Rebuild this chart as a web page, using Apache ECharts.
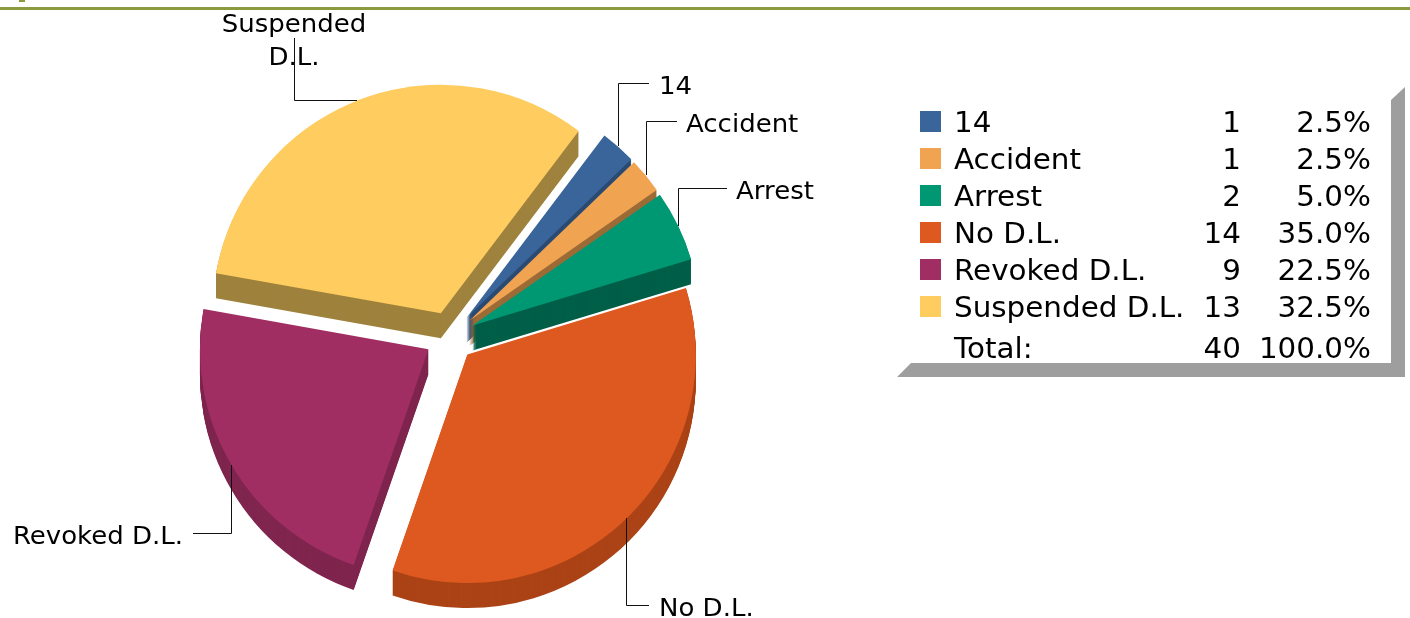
<!DOCTYPE html>
<html>
<head>
<meta charset="utf-8">
<script src="https://cdn.jsdelivr.net/npm/echarts@6/dist/echarts.min.js"></script>
<style>html,body{margin:0;padding:0;background:#fff}#c{width:1410px;height:618px}</style>
</head>
<body>
<div id="c"></div>
<script>
const categories = ['14', 'Accident', 'Arrest', 'No D.L.', 'Revoked D.L.', 'Suspended D.L.'];
const counts = [1, 1, 2, 14, 9, 13];
const percentLabels = ['2.5%', '2.5%', '5.0%', '35.0%', '22.5%', '32.5%'];
const totalRow = ['Total:', '40', '100.0%'];

const topColors = ['#39659A', '#F0A452', '#009873', '#DD591F', '#A12E62', '#FFCC5F'];
const wallColors = ['#2A4A72', '#9C6B36', '#005F48', '#AB4316', '#7F254E', '#9E823D'];

const CENTER = [450, 336.5], RADIUS = 228.5, EXPLODE = 25, DEPTH = 25, START = 52.9;

function pieLayer(colors, dy, z) {
  return {
    type: 'pie', silent: true, animation: false, z: z,
    center: [CENTER[0], CENTER[1] + dy], radius: [0, RADIUS], startAngle: START,
    clockwise: true, selectedMode: 'multiple', selectedOffset: EXPLODE,
    label: { show: false }, labelLine: { show: false },
    data: categories.map((name, i) => ({
      name, value: counts[i], selected: true,
      itemStyle: { color: colors[i], borderWidth: 0 },
      select: { itemStyle: { color: colors[i], borderWidth: 0 } }
    }))
  };
}

const series = [];
for (let d = DEPTH; d >= 1; d--) series.push(pieLayer(wallColors, d, 1));
series.push(pieLayer(topColors, 0, 2));

const graphics = [];
const LINE = '#111';
function leader(points) {
  graphics.push({ type: 'polyline', z: 5, shape: { points }, style: { stroke: LINE, lineWidth: 1, fill: null } });
}
function text(str, x, y, size, stretch, align) {
  graphics.push({
    type: 'text', z: 6, x, y, scaleX: stretch,
    style: { text: str, x: 0, y: 0, fill: '#000', font: size + 'px "DejaVu Sans"', textAlign: align, textVerticalAlign: 'middle' }
  });
}
// header rule
graphics.push({ type: 'rect', shape: { x: 0, y: 7, width: 1410, height: 3 }, style: { fill: '#8A9A3C' } });
graphics.push({ type: 'rect', shape: { x: 19, y: 0, width: 6, height: 2 }, style: { fill: '#8A9A3C' } });

// slice labels
const LS = 25, LX = 1.04;
leader([[649, 83.5], [618.5, 83.5], [618.5, 146]]);
leader([[677, 121.5], [646.5, 121.5], [646.5, 175]]);
leader([[727, 188.5], [678.5, 188.5], [678.5, 226]]);
leader([[294.5, 38], [294.5, 100.5], [357, 100.5]]);
leader([[231.5, 465], [231.5, 533.5], [193, 533.5]]);
leader([[626.5, 518], [626.5, 605.5], [649, 605.5]]);
text(categories[0], 659, 87, LS, LX, 'left');
text(categories[1], 686, 125, LS, LX, 'left');
text(categories[2], 736, 192, LS, LX, 'left');
text('Suspended', 294, 25, LS, LX, 'center');
text('D.L.', 294, 58, LS, LX, 'center');
text(categories[4], 183, 537, LS, LX, 'right');
text(categories[3], 659, 609, LS, LX, 'left');

// legend panel shadow
graphics.push({
  type: 'polygon', z: 1,
  shape: { points: [[1391, 100], [1405, 87], [1405, 377], [897, 377], [911, 363], [1391, 363]] },
  style: { fill: '#9E9E9E' }
});
// legend table
const TS = 28, TX = 1.05, rowY = [125, 162, 199, 236, 273, 310];
categories.forEach((name, i) => {
  graphics.push({ type: 'rect', z: 6, shape: { x: 920, y: rowY[i] - 14, width: 21, height: 21 }, style: { fill: topColors[i] } });
  text(name, 954, rowY[i], TS, TX, 'left');
  text(String(counts[i]), 1241, rowY[i], TS, TX, 'right');
  text(percentLabels[i], 1371, rowY[i], TS, TX, 'right');
});
text(totalRow[0], 954, 351, TS, TX, 'left');
text(totalRow[1], 1241, 351, TS, TX, 'right');
text(totalRow[2], 1371, 351, TS, TX, 'right');

const chart = echarts.init(document.getElementById('c'), null, { renderer: 'canvas' });
chart.setOption({ animation: false, backgroundColor: '#fff', tooltip: { show: false }, series, graphic: { elements: graphics } });
</script>
</body>
</html>
